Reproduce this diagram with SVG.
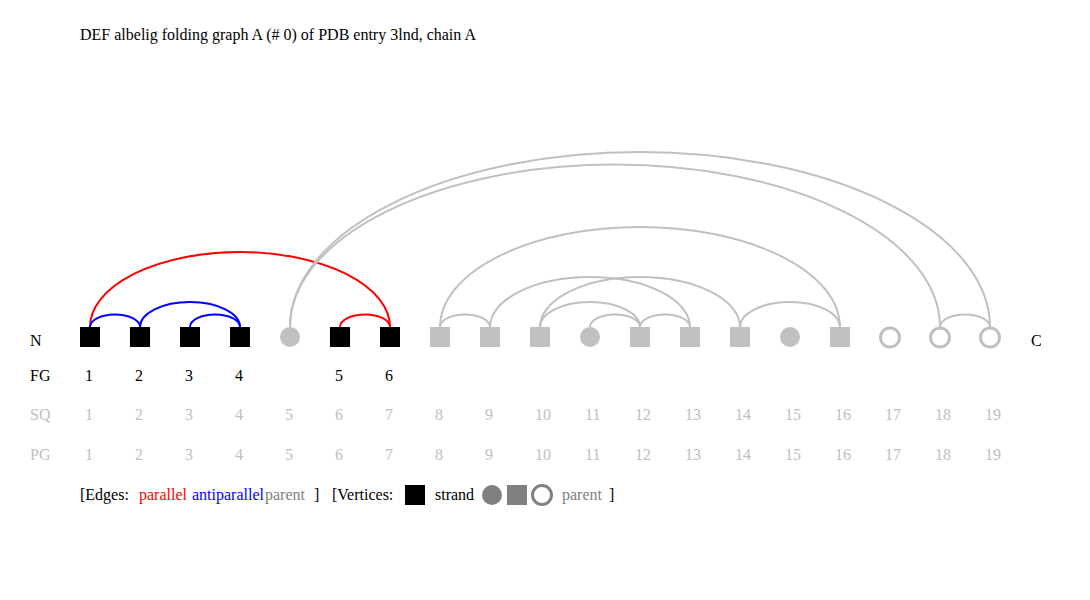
<svg xmlns="http://www.w3.org/2000/svg" width="1090" height="600" viewBox="0 0 1090 600">
<style>
text{font-family:"Liberation Serif","Times New Roman",serif;font-size:16px;fill:#000}
.lg{fill:#c0c0c0}
.dg{fill:#808080}
.sq{fill:#000}
.gsq{fill:#c0c0c0}
.gci{fill:#c0c0c0}
.hci{fill:none;stroke:#c0c0c0;stroke-width:3}
.arc{fill:none;stroke-width:2}
.p{stroke:#ff0000}
.a{stroke:#0000ff}
.g{stroke:#c0c0c0}
</style>
<rect width="1090" height="600" fill="#fff"/>
<text x="80" y="40">DEF albelig folding graph A (# 0) of PDB entry 3lnd, chain A</text>
<g id="connectors">
<path class="arc p" d="M90 327 A150 75 0 0 1 390 327"/>
<path class="arc a" d="M90 327 A25 12.5 0 0 1 140 327"/>
<path class="arc a" d="M140 327 A50 25 0 0 1 240 327"/>
<path class="arc a" d="M190 327 A25 12.5 0 0 1 240 327"/>
<path class="arc p" d="M340 327 A25 12.5 0 0 1 390 327"/>
<path class="arc g" d="M290 327 A350 175 0 0 1 990 327"/>
<path class="arc g" d="M290 327 A325 162.5 0 0 1 940 327"/>
<path class="arc g" d="M440 327 A25 12.5 0 0 1 490 327"/>
<path class="arc g" d="M440 327 A200 100 0 0 1 840 327"/>
<path class="arc g" d="M490 327 A100 50 0 0 1 690 327"/>
<path class="arc g" d="M540 327 A50 25 0 0 1 640 327"/>
<path class="arc g" d="M540 327 A100 50 0 0 1 740 327"/>
<path class="arc g" d="M590 327 A25 12.5 0 0 1 640 327"/>
<path class="arc g" d="M640 327 A25 12.5 0 0 1 690 327"/>
<path class="arc g" d="M740 327 A50 25 0 0 1 840 327"/>
<path class="arc g" d="M940 327 A25 12.5 0 0 1 990 327"/>
</g>
<text x="30" y="346">N</text>
<text x="1031" y="346">C</text>
<text x="30" y="381">FG</text>
<text class="lg" x="30" y="420">SQ</text>
<text class="lg" x="30" y="460">PG</text>
<g id="node1"><rect class="sq" x="80" y="327" width="20" height="20"/><text x="85" y="381">1</text><text class="lg" x="85" y="420">1</text><text class="lg" x="85" y="460">1</text></g>
<g id="node2"><rect class="sq" x="130" y="327" width="20" height="20"/><text x="135" y="381">2</text><text class="lg" x="135" y="420">2</text><text class="lg" x="135" y="460">2</text></g>
<g id="node3"><rect class="sq" x="180" y="327" width="20" height="20"/><text x="185" y="381">3</text><text class="lg" x="185" y="420">3</text><text class="lg" x="185" y="460">3</text></g>
<g id="node4"><rect class="sq" x="230" y="327" width="20" height="20"/><text x="235" y="381">4</text><text class="lg" x="235" y="420">4</text><text class="lg" x="235" y="460">4</text></g>
<g id="node5"><circle class="gci" cx="290" cy="337" r="10"/><text class="lg" x="285" y="420">5</text><text class="lg" x="285" y="460">5</text></g>
<g id="node6"><rect class="sq" x="330" y="327" width="20" height="20"/><text x="335" y="381">5</text><text class="lg" x="335" y="420">6</text><text class="lg" x="335" y="460">6</text></g>
<g id="node7"><rect class="sq" x="380" y="327" width="20" height="20"/><text x="385" y="381">6</text><text class="lg" x="385" y="420">7</text><text class="lg" x="385" y="460">7</text></g>
<g id="node8"><rect class="gsq" x="430" y="327" width="20" height="20"/><text class="lg" x="435" y="420">8</text><text class="lg" x="435" y="460">8</text></g>
<g id="node9"><rect class="gsq" x="480" y="327" width="20" height="20"/><text class="lg" x="485" y="420">9</text><text class="lg" x="485" y="460">9</text></g>
<g id="node10"><rect class="gsq" x="530" y="327" width="20" height="20"/><text class="lg" x="535" y="420">10</text><text class="lg" x="535" y="460">10</text></g>
<g id="node11"><circle class="gci" cx="590" cy="337" r="10"/><text class="lg" x="585" y="420">11</text><text class="lg" x="585" y="460">11</text></g>
<g id="node12"><rect class="gsq" x="630" y="327" width="20" height="20"/><text class="lg" x="635" y="420">12</text><text class="lg" x="635" y="460">12</text></g>
<g id="node13"><rect class="gsq" x="680" y="327" width="20" height="20"/><text class="lg" x="685" y="420">13</text><text class="lg" x="685" y="460">13</text></g>
<g id="node14"><rect class="gsq" x="730" y="327" width="20" height="20"/><text class="lg" x="735" y="420">14</text><text class="lg" x="735" y="460">14</text></g>
<g id="node15"><circle class="gci" cx="790" cy="337" r="10"/><text class="lg" x="785" y="420">15</text><text class="lg" x="785" y="460">15</text></g>
<g id="node16"><rect class="gsq" x="830" y="327" width="20" height="20"/><text class="lg" x="835" y="420">16</text><text class="lg" x="835" y="460">16</text></g>
<g id="node17"><circle class="hci" cx="890" cy="337.5" r="9.5"/><text class="lg" x="885" y="420">17</text><text class="lg" x="885" y="460">17</text></g>
<g id="node18"><circle class="hci" cx="940" cy="337.5" r="9.5"/><text class="lg" x="935" y="420">18</text><text class="lg" x="935" y="460">18</text></g>
<g id="node19"><circle class="hci" cx="990" cy="337.5" r="9.5"/><text class="lg" x="985" y="420">19</text><text class="lg" x="985" y="460">19</text></g>
<g id="legend">
<text x="80" y="500">[Edges:</text>
<text x="139" y="500" fill="#ff0000" style="fill:#ff0000">parallel</text>
<text x="192" y="500" style="fill:#0000ff">antiparallel</text>
<text class="dg" x="265" y="500">parent</text>
<text x="314" y="500">]</text>
<text x="332" y="500">[Vertices:</text>
<rect x="405" y="485" width="20" height="20" fill="#000"/>
<text x="435" y="500">strand</text>
<circle cx="492" cy="495" r="10" fill="#808080"/>
<rect x="507" y="485" width="20" height="20" fill="#808080"/>
<circle cx="542" cy="495" r="9.5" fill="none" stroke="#808080" stroke-width="3"/>
<text class="dg" x="562" y="500">parent</text>
<text x="609" y="500">]</text>
</g>
</svg>
